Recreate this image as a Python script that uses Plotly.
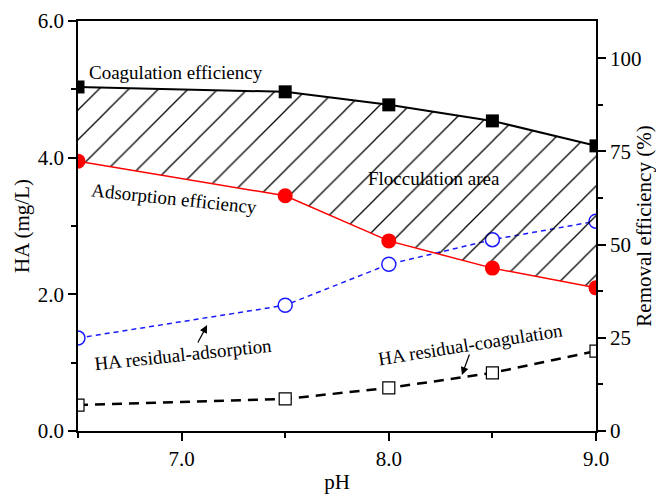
import plotly.graph_objects as go

ph = [6.5, 7.5, 8.0, 8.5, 9.0]
coag_eff = [92.3, 91.0, 87.5, 83.2, 76.5]      # % (right axis)
ads_eff = [72.4, 63.1, 51.0, 43.7, 38.4]       # % (right axis)
ha_res_ads = [1.36, 1.84, 2.44, 2.80, 3.07]    # mg/L (left axis)
ha_res_coag = [0.38, 0.47, 0.63, 0.85, 1.17]   # mg/L (left axis)

FONT = "Liberation Serif"
fig = go.Figure()

# hatched flocculation area between adsorption and coagulation efficiency
fig.add_trace(go.Scatter(x=ph, y=ads_eff, yaxis="y2", mode="lines",
                         line=dict(width=0, color="rgba(0,0,0,0)"),
                         showlegend=False, hoverinfo="skip"))
fig.add_trace(go.Scatter(x=ph, y=coag_eff, yaxis="y2", mode="lines",
                         line=dict(width=0, color="rgba(0,0,0,0)"),
                         fill="tonexty", fillcolor="rgba(0,0,0,0)",
                         fillpattern=dict(shape="/", fgcolor="black", bgcolor="rgba(0,0,0,0)",
                                          fillmode="replace", size=21, solidity=0.06),
                         showlegend=False, hoverinfo="skip"))

fig.add_trace(go.Scatter(x=ph, y=ha_res_coag, mode="lines+markers",
                         line=dict(color="black", width=2.5, dash="10px,7px"),
                         marker=dict(symbol="square", size=12, color="white",
                                     line=dict(color="black", width=1.2)),
                         showlegend=False))
fig.add_trace(go.Scatter(x=ph, y=ha_res_ads, mode="lines+markers",
                         line=dict(color="#1a1aff", width=1.5, dash="5px,4px"),
                         marker=dict(symbol="circle", size=14, color="white",
                                     line=dict(color="#1a1aff", width=1.5)),
                         showlegend=False))
fig.add_trace(go.Scatter(x=ph, y=ads_eff, yaxis="y2", mode="lines+markers",
                         line=dict(color="#ff0000", width=1.5),
                         marker=dict(symbol="circle", size=15, color="#ff0000"),
                         showlegend=False))
fig.add_trace(go.Scatter(x=ph, y=coag_eff, yaxis="y2", mode="lines+markers",
                         line=dict(color="black", width=2),
                         marker=dict(symbol="square", size=13, color="black"),
                         showlegend=False))

afont = dict(family=FONT, size=19, color="black")
ann = [
    dict(x=6.973, y=5.24, text="Coagulation efficiency", textangle=0),
    dict(x=6.963, y=3.40, text="Adsorption efficiency", textangle=6),
    dict(x=8.218, y=3.70, text="Flocculation area", textangle=0),
    dict(x=7.007, y=1.12, text="HA residual-adsorption", textangle=-6),
    dict(x=8.392, y=1.27, text="HA residual-coagulation", textangle=-9),
]
for a in ann:
    fig.add_annotation(xref="x", yref="y", showarrow=False, font=afont, **a)

fig.add_annotation(xref="x", yref="y", x=7.123, y=1.55, ax=-10, ay=19, text="",
                   showarrow=True, arrowhead=2, arrowsize=1.3, arrowwidth=1.2, arrowcolor="black")
fig.add_annotation(xref="x", yref="y", x=8.353, y=0.82, ax=8, ay=-22, text="",
                   showarrow=True, arrowhead=2, arrowsize=1.3, arrowwidth=1.2, arrowcolor="black")

tfont = dict(family=FONT, size=21, color="black")
common = dict(showgrid=False, zeroline=False, showline=True, linecolor="black", linewidth=1.5,
              ticks="outside", ticklen=8, tickwidth=1.5, tickcolor="black", tickfont=tfont,
              automargin=False)

fig.update_layout(
    width=656, height=497,
    margin=dict(l=78, r=60, t=21, b=66),
    plot_bgcolor="white", paper_bgcolor="white",
    xaxis=dict(range=[6.5, 9.0], tick0=7, dtick=1, tickformat=".1f", mirror=True,
               title=dict(text="pH", font=tfont, standoff=4),
               minor=dict(ticks="outside", ticklen=5, tickwidth=1.5, tickcolor="black", dtick=0.5, tick0=7),
               **common),
    yaxis=dict(range=[0, 6], dtick=2, tickformat=".1f",
               title=dict(text="HA (mg/L)", font=tfont, standoff=2),
               minor=dict(ticks="outside", ticklen=5, tickwidth=1.5, tickcolor="black", dtick=1),
               **common),
    yaxis2=dict(range=[0, 110], dtick=25, overlaying="y", side="right",
                title=dict(text="Removal efficiency (%)", font=tfont, standoff=0),
                minor=dict(ticks="outside", ticklen=5, tickwidth=1.5, tickcolor="black", dtick=12.5),
                **common),
)

fig.write_html("out.html")
